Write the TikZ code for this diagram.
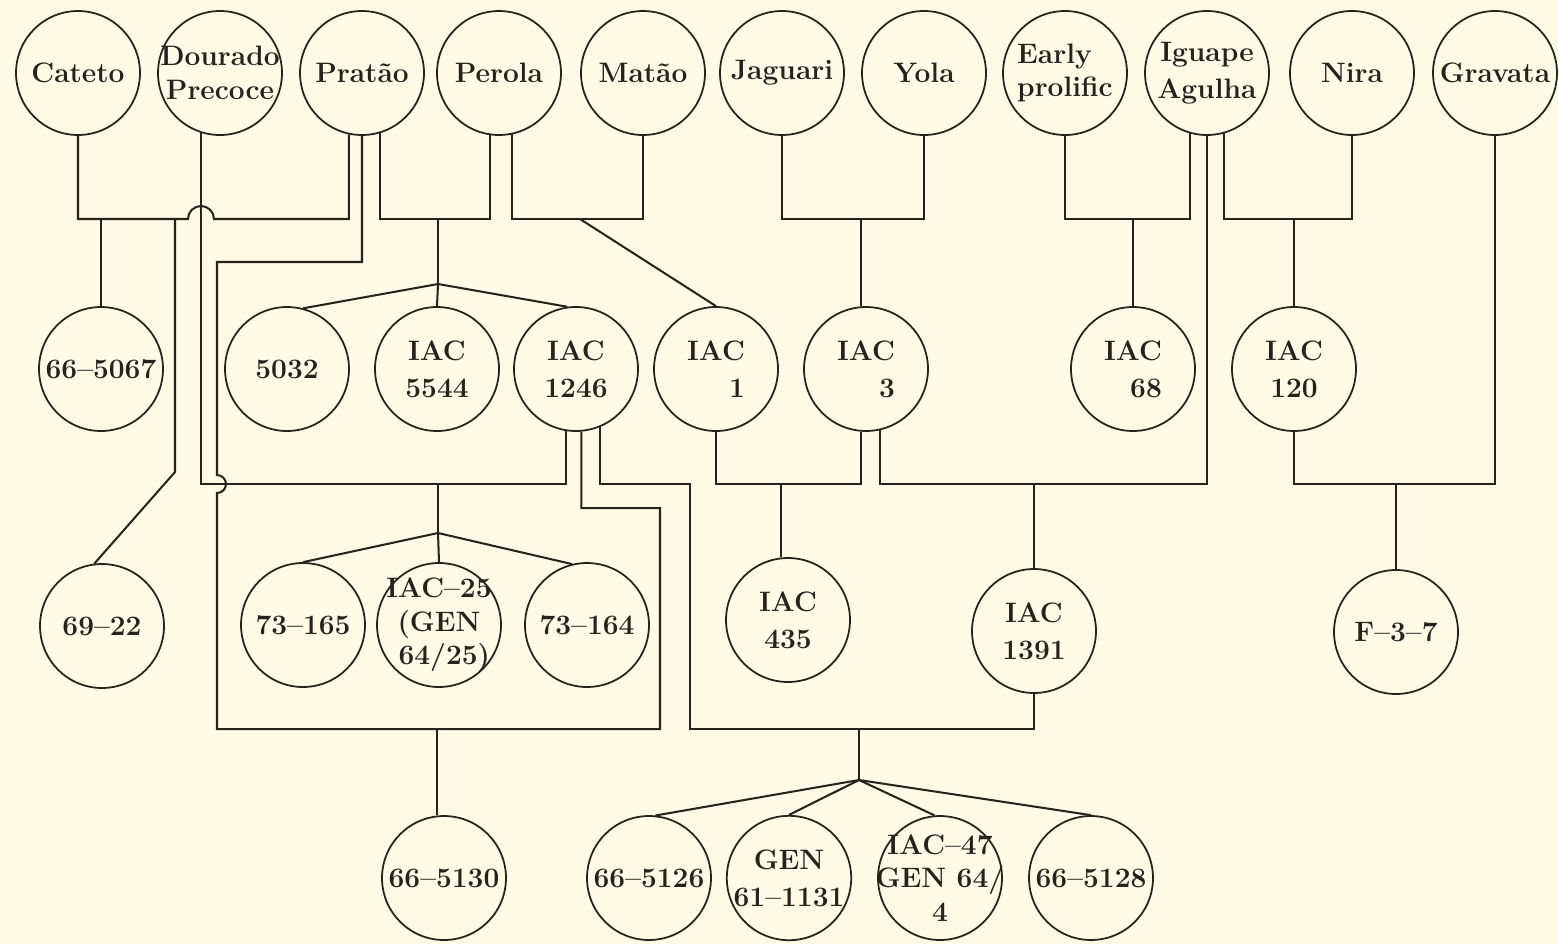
\documentclass[tikz,border=0pt]{standalone}
\usepackage{tikz}
\definecolor{paper}{RGB}{253,251,229}
\definecolor{ink}{RGB}{38,34,28}

\begin{document}
\begin{tikzpicture}[x=0.02cm, y=-0.02cm,
        plant/.style = {draw=ink, circle, line width=1pt, minimum size=2.48cm, inner sep=0pt, align=center, text=ink, font=\fontsize{16}{21}\selectfont\bfseries},
        tight/.style = {inner sep=-0.25cm, font=\fontsize{16}{19}\selectfont\bfseries},
        link/.style = {draw=ink, line width=1.15pt}]
        \fill[paper] (0,0) rectangle (1558,944);
        \useasboundingbox (0,0) rectangle (1558,944);
        \coordinate (topbar) at (0,219);
        \coordinate (midbar) at (0,484);
        \coordinate (lowbar) at (0,729);
        % parents
        \node[plant] (cateto)  at (78,73)   {Cateto};
        \node[plant, tight] (dourado) at (220,73) {Dourado\\Precoce};
        \node[plant] (pratao)  at (362,73)  {Pratão};
        \node[plant] (perola)  at (499,73)  {Perola};
        \node[plant] (matao)   at (643,73)  {Matão};
        \node[plant] (jaguari) at (782,73)  {Jaguari};
        \node[plant] (yola)    at (924,73)  {Yola};
        \node[plant, tight, align=left] (early) at (1065,73) {Early\\prolific};
        \node[plant] (iguape)  at (1207,73) {Iguape\\Agulha};
        \node[plant] (nira)    at (1352,73) {Nira};
        \node[plant] (gravata) at (1495,73) {Gravata};
        % first crosses
        \node[plant] (n665067) at (101,369)  {66--5067};
        \node[plant] (n5032)   at (287,369)  {5032};
        \node[plant] (iac5544) at (437,369)  {IAC\\5544};
        \node[plant] (iac1246) at (576,369)  {IAC\\1246};
        \node[plant, align=right] (iac1) at (716,369) {IAC\\1};
        \node[plant, align=right] (iac3) at (866,369) {IAC\\3};
        \node[plant, align=right] (iac68) at (1133,369) {IAC\\68};
        \node[plant] (iac120)  at (1294,369) {IAC\\120};
        % second crosses
        \node[plant] (n6922)   at (102,626)  {69--22};
        \node[plant] (n73165)  at (303,625)  {73--165};
        \node[plant, tight] (iac25) at (439,625) {IAC--25\\(GEN\\\ 64/25)};
        \node[plant] (n73164)  at (587,625)  {73--164};
        \node[plant] (iac435)  at (788,620)  {IAC\\435};
        \node[plant] (iac1391) at (1034,631) {IAC\\1391};
        \node[plant] (f37)     at (1396,632) {F--3--7};
        % third crosses
        \node[plant] (n665130)   at (444,878)  {66--5130};
        \node[plant] (n665126)   at (649,878)  {66--5126};
        \node[plant] (gen611131) at (789,878)  {GEN\\61--1131};
        \node[plant, tight] (iac47) at (940,878) {IAC--47\\GEN 64/\\4};
        \node[plant] (n665128)   at (1091,878) {66--5128};
        \coordinate (sB) at (438,284);
        \coordinate (sJ) at (438,533);
        \coordinate (sL) at (859,780);
        % Cateto x Pratao
        \draw[link] (pratao.-102) |- (214,219) arc[start angle=0, end angle=-180, radius=13] -| (cateto.south);
        \draw[link] (n665067.north) -- (n665067.north |- topbar);
        \draw[link] (n6922.97) -- (175,472) -- (175,219);
        % Pratao x Perola
        \draw[link] (pratao.-73) |- (perola.-98 |- topbar) -- (perola.-98);
        \draw[link] (438,219) -- (sB);
        \draw[link] (sB) -- (n5032.75);
        \draw[link] (sB) -- (iac5544.north);
        \draw[link] (sB) -- (iac1246.98);
        % Perola x Matao
        \draw[link] (perola.-78) |- (matao.south |- topbar) -- (matao.south);
        \draw[link] (580,219) -- (iac1.north);
        % Jaguari x Yola
        \draw[link] (jaguari.south) |- (yola.south |- topbar) -- (yola.south);
        \draw[link] (iac3.95) -- (iac3.95 |- topbar);
        % Early prolific x Iguape
        \draw[link] (early.south) |- (iguape.-106 |- topbar) -- (iguape.-106);
        \draw[link] (iac68.north) -- (iac68.north |- topbar);
        % Iguape x Nira
        \draw[link] (iguape.-74) |- (nira.south |- topbar) -- (nira.south);
        \draw[link] (iac120.north) -- (iac120.north |- topbar);
        % IAC 120 x Gravata
        \draw[link] (iac120.south) |- (gravata.south |- midbar) -- (gravata.south);
        \draw[link] (f37.north) -- (f37.north |- midbar);
        % IAC 1 x IAC 3
        \draw[link] (iac1.south) |- (iac3.-95 |- midbar) -- (iac3.-95);
        \draw[link] (iac435.96) -- (iac435.96 |- midbar);
        % IAC 3 x Iguape
        \draw[link] (iac3.-77) |- (iguape.south |- midbar) -- (iguape.south);
        \draw[link] (iac1391.north) -- (iac1391.north |- midbar);
        % Dourado x IAC 1246
        \draw[link] (dourado.-108) |- (iac1246.-99 |- midbar) -- (iac1246.-99);
        \draw[link] (438,484) -- (sJ);
        \draw[link] (sJ) -- (n73165.north);
        \draw[link] (sJ) -- (iac25.north);
        \draw[link] (sJ) -- (n73164.104);
        % Pratao x IAC 1246
        \draw[link] (pratao.south) |- (217,262) -- (217,475) arc[start angle=-90, end angle=90, radius=9] |- (660,729) -- (660,508) -| (iac1246.-85);
        \draw[link] (n665130.96) -- (n665130.96 |- lowbar);
        % IAC 1246 x IAC 1391
        \draw[link] (iac1246.-68) |- (690,484) |- (iac1391.south |- lowbar) -- (iac1391.south);
        \draw[link] (859,729) -- (sL);
        \draw[link] (sL) -- (n665126.84);
        \draw[link] (sL) -- (gen611131.north);
        \draw[link] (sL) -- (iac47.95);
        \draw[link] (sL) -- (n665128.north);
\end{tikzpicture}
\end{document}
